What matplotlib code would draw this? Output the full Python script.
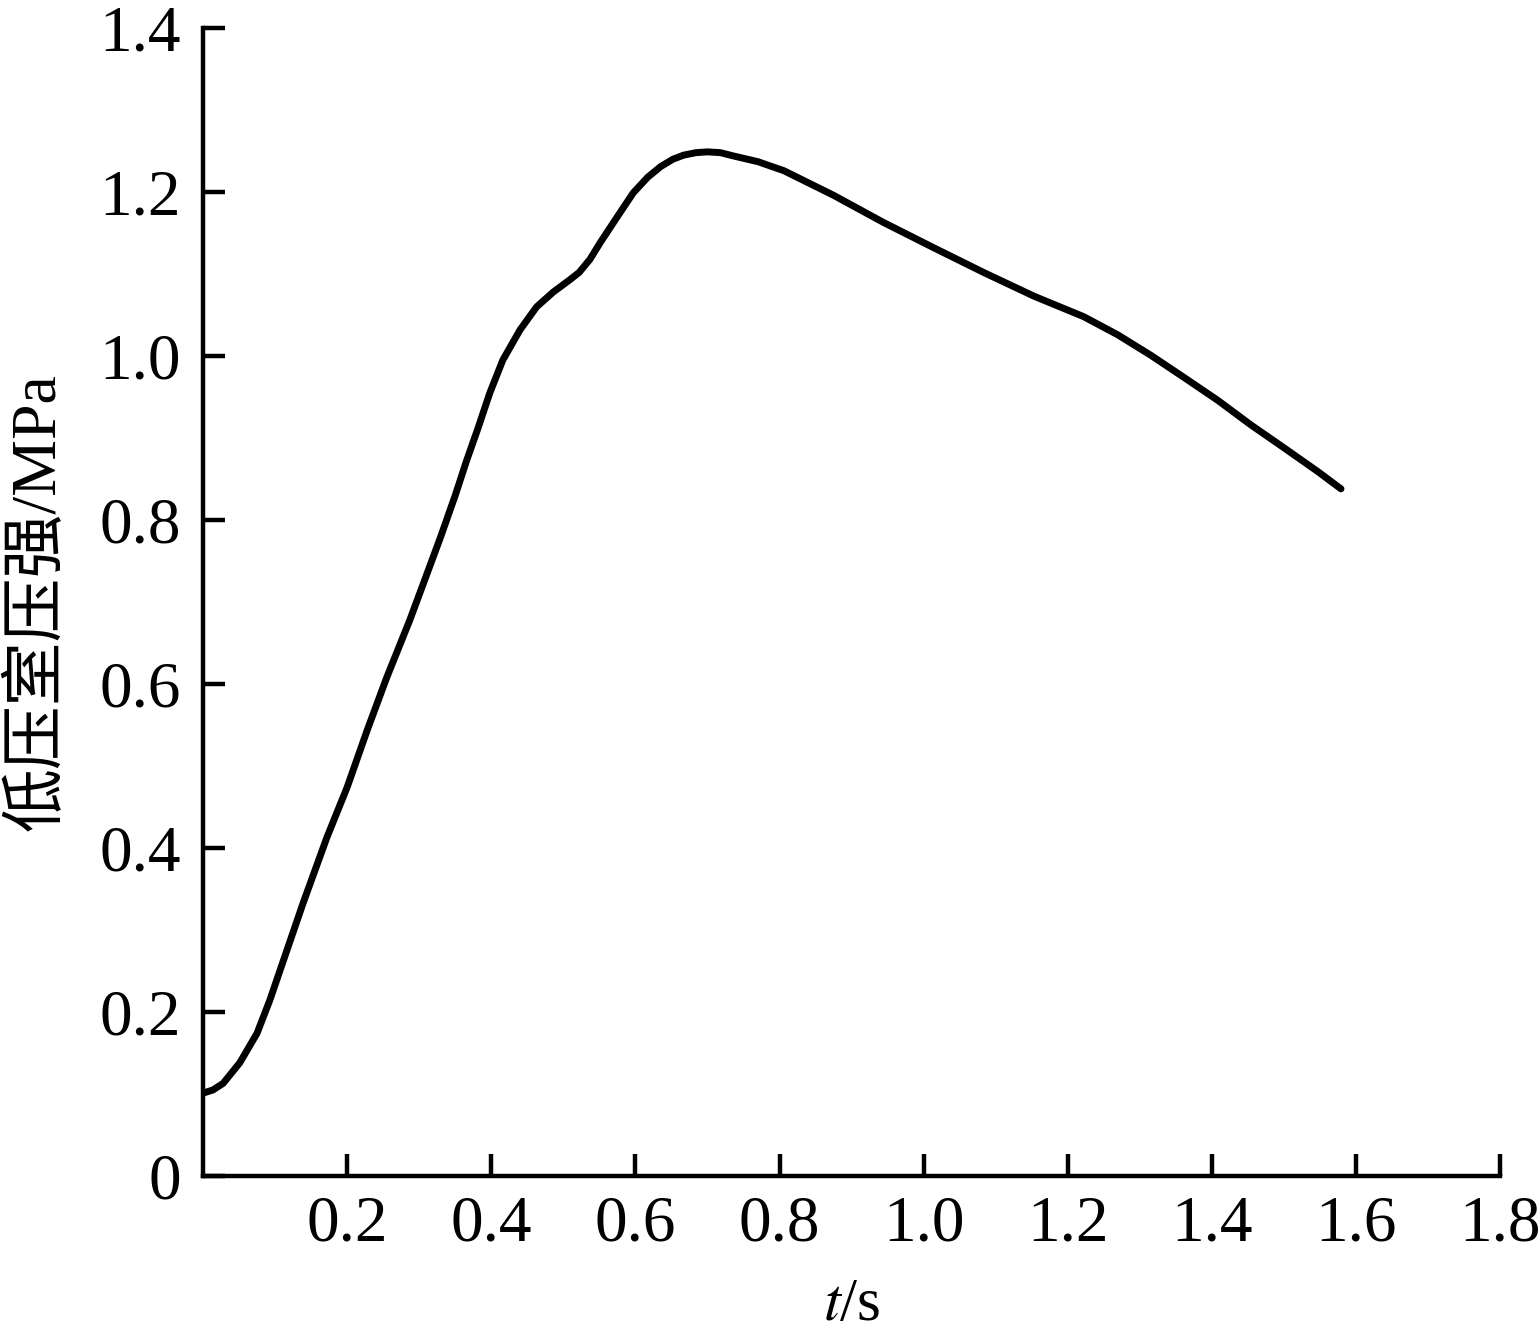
import matplotlib.pyplot as plt

# pressure curve
t = [0, 0.014, 0.028, 0.051, 0.075, 0.093, 0.107, 0.139, 0.172, 0.2, 0.228,
     0.255, 0.287, 0.306, 0.33, 0.35, 0.366, 0.382, 0.398, 0.416, 0.44,
     0.463, 0.486, 0.509, 0.522, 0.537, 0.551, 0.575, 0.597, 0.617, 0.635,
     0.652, 0.667, 0.684, 0.7, 0.718, 0.736, 0.77, 0.806, 0.875, 0.944,
     1.014, 1.083, 1.153, 1.222, 1.269, 1.315, 1.361, 1.408, 1.454, 1.5,
     1.547, 1.579]
p = [0.101, 0.105, 0.113, 0.138, 0.174, 0.215, 0.251, 0.333, 0.413, 0.474,
     0.544, 0.608, 0.678, 0.723, 0.780, 0.830, 0.873, 0.913, 0.955, 0.995,
     1.032, 1.060, 1.078, 1.093, 1.102, 1.118, 1.138, 1.170, 1.199, 1.218,
     1.231, 1.240, 1.245, 1.248, 1.249, 1.248, 1.244, 1.237, 1.226, 1.196,
     1.163, 1.132, 1.102, 1.073, 1.048, 1.026, 1.001, 0.974, 0.946, 0.916,
     0.888, 0.859, 0.838]

xticks = [0.2, 0.4, 0.6, 0.8, 1.0, 1.2, 1.4, 1.6, 1.8]
xticklabels = ["0.2", "0.4", "0.6", "0.8", "1.0", "1.2", "1.4", "1.6", "1.8"]
yticks = [0, 0.2, 0.4, 0.6, 0.8, 1.0, 1.2, 1.4]
yticklabels = ["0", "0.2", "0.4", "0.6", "0.8", "1.0", "1.2", "1.4"]

plt.rcParams["font.family"] = ["Liberation Serif", "Noto Sans CJK SC"]
plt.rcParams["mathtext.fontset"] = "stix"

fig = plt.figure(figsize=(15.4, 13.35), dpi=100)
ax = fig.add_axes([0.1318, 0.1191, 0.8424, 0.8599])

ax.plot(t, p, color="black", linewidth=5, solid_joinstyle="round",
        solid_capstyle="round")

ax.set_xlim(0, 1.8)
ax.set_ylim(0, 1.4)
ax.set_xticks(xticks)
ax.set_xticklabels(xticklabels)
ax.set_yticks(yticks)
ax.set_yticklabels(yticklabels)

for side in ["top", "right"]:
    ax.spines[side].set_visible(False)
for side in ["left", "bottom"]:
    ax.spines[side].set_linewidth(3.2)

ax.tick_params(direction="in", length=16, width=3.2, labelsize=47)
ax.tick_params(axis="x", pad=14)
ax.tick_params(axis="y", pad=16)

ax.set_xlabel("$t$/s", fontsize=44, labelpad=16)
ax.set_ylabel("低压室压强/MPa", fontsize=46, labelpad=22)

fig.savefig("out.png", dpi=100)
